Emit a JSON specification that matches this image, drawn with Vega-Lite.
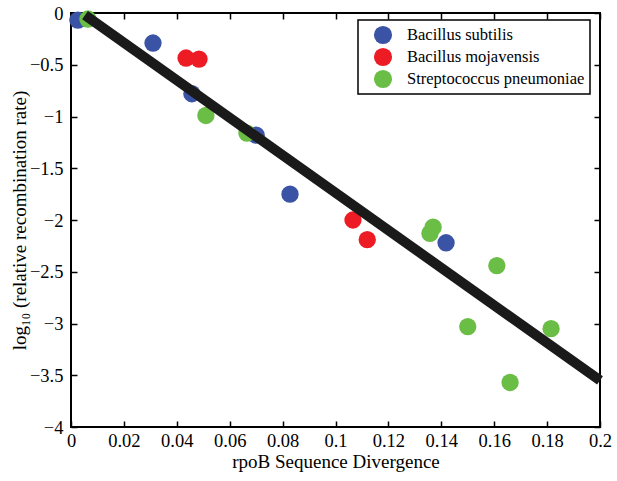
{
  "$schema": "https://vega.github.io/schema/vega-lite/v6.json",
  "width": 529,
  "height": 414,
  "autosize": "none",
  "padding": {"left": 71, "top": 13, "right": 17, "bottom": 54},
  "background": "white",
  "config": {
    "view": {"stroke": "black", "strokeWidth": 2},
    "font": "Liberation Serif",
    "axis": {
      "grid": false,
      "domain": false,
      "tickColor": "black",
      "tickWidth": 1.5,
      "tickSize": -6,
      "labelFont": "Liberation Serif",
      "labelFontSize": 18.5,
      "labelColor": "black",
      "titleFont": "Liberation Serif",
      "titleFontSize": 19,
      "titleFontWeight": "normal",
      "titleColor": "black",
      "format": "~g"
    }
  },
  "datasets": {
    "pts": [
      {"x": 0.0026, "y": -0.068, "species": "Bacillus subtilis", "o": 1},
      {"x": 0.031, "y": -0.29, "species": "Bacillus subtilis", "o": 1},
      {"x": 0.0457, "y": -0.78, "species": "Bacillus subtilis", "o": 1},
      {"x": 0.07, "y": -1.18, "species": "Bacillus subtilis", "o": 1},
      {"x": 0.0828, "y": -1.75, "species": "Bacillus subtilis", "o": 1},
      {"x": 0.1357, "y": -2.13, "species": "Streptococcus pneumoniae", "o": 2},
      {"x": 0.1369, "y": -2.07, "species": "Streptococcus pneumoniae", "o": 2},
      {"x": 0.1418, "y": -2.22, "species": "Bacillus subtilis", "o": 3},
      {"x": 0.0435, "y": -0.435, "species": "Bacillus mojavensis", "o": 1},
      {"x": 0.0484, "y": -0.445, "species": "Bacillus mojavensis", "o": 1},
      {"x": 0.1066, "y": -2.0, "species": "Bacillus mojavensis", "o": 1},
      {"x": 0.112, "y": -2.19, "species": "Bacillus mojavensis", "o": 1},
      {"x": 0.0064, "y": -0.058, "species": "Streptococcus pneumoniae", "o": 2},
      {"x": 0.051, "y": -0.99, "species": "Streptococcus pneumoniae", "o": 2},
      {"x": 0.0665, "y": -1.16, "species": "Streptococcus pneumoniae", "o": 2},
      {"x": 0.161, "y": -2.44, "species": "Streptococcus pneumoniae", "o": 2},
      {"x": 0.150, "y": -3.03, "species": "Streptococcus pneumoniae", "o": 2},
      {"x": 0.1815, "y": -3.05, "species": "Streptococcus pneumoniae", "o": 2},
      {"x": 0.166, "y": -3.57, "species": "Streptococcus pneumoniae", "o": 2}
    ],
    "fit": [
      {"x": 0.0053, "y": -0.02},
      {"x": 0.2, "y": -3.55}
    ]
  },
  "layer": [
    {
      "data": {"name": "pts"},
      "mark": {"type": "circle", "size": 300, "opacity": 1},
      "encoding": {
        "x": {"field": "x", "type": "quantitative", "scale": {"domain": [0, 0.2], "nice": false, "zero": false},
              "axis": {"title": "rpoB Sequence Divergence", "values": [0, 0.02, 0.04, 0.06, 0.08, 0.1, 0.12, 0.14, 0.16, 0.18, 0.2], "labelPadding": 10, "titlePadding": 3, "labelFlush": false}},
        "y": {"field": "y", "type": "quantitative", "scale": {"domain": [-4, 0], "nice": false, "zero": false},
              "axis": {"title": "log₁₀ (relative recombination rate)", "values": [-4, -3.5, -3, -2.5, -2, -1.5, -1, -0.5, 0], "labelPadding": 14, "titlePadding": 0, "labelFlush": false}},
        "order": {"field": "o"},
        "color": {
          "field": "species", "type": "nominal",
          "scale": {"domain": ["Bacillus subtilis", "Bacillus mojavensis", "Streptococcus pneumoniae"], "range": ["#3a53a4", "#ed1c24", "#6abd45"]},
          "legend": {
            "title": null,
            "orient": "none",
            "legendX": 287,
            "legendY": 7,
            "symbolType": "circle",
            "symbolSize": 330,
            "symbolOpacity": 1,
            "symbolOffset": 10,
            "labelFont": "Liberation Serif",
            "labelFontSize": 16.5,
            "labelLimit": 0,
            "labelColor": "black",
            "labelOffset": 14,
            "rowPadding": 2,
            "strokeColor": "black",
            "padding": 5,
            "fillColor": "white",
            "offset": 0,
            "encode": {"legend": {"update": {"strokeWidth": {"value": 1.5}}}}
          }
        }
      }
    },
    {
      "data": {"name": "fit"},
      "mark": {"type": "line", "color": "#1a1a1a", "strokeWidth": 10, "strokeCap": "butt"},
      "encoding": {
        "x": {"field": "x", "type": "quantitative", "axis": null},
        "y": {"field": "y", "type": "quantitative", "axis": null}
      }
    },
    {
      "data": {"name": "fit"},
      "mark": {"type": "point", "opacity": 0},
      "encoding": {
        "x": {"field": "x", "type": "quantitative", "axis": {"orient": "top", "labels": false, "title": null, "values": [0, 0.02, 0.04, 0.06, 0.08, 0.1, 0.12, 0.14, 0.16, 0.18, 0.2]}},
        "y": {"field": "y", "type": "quantitative", "axis": {"orient": "right", "labels": false, "title": null, "values": [-4, -3.5, -3, -2.5, -2, -1.5, -1, -0.5, 0]}}
      }
    }
  ],
  "resolve": {"axis": {"x": "independent", "y": "independent"}}
}
